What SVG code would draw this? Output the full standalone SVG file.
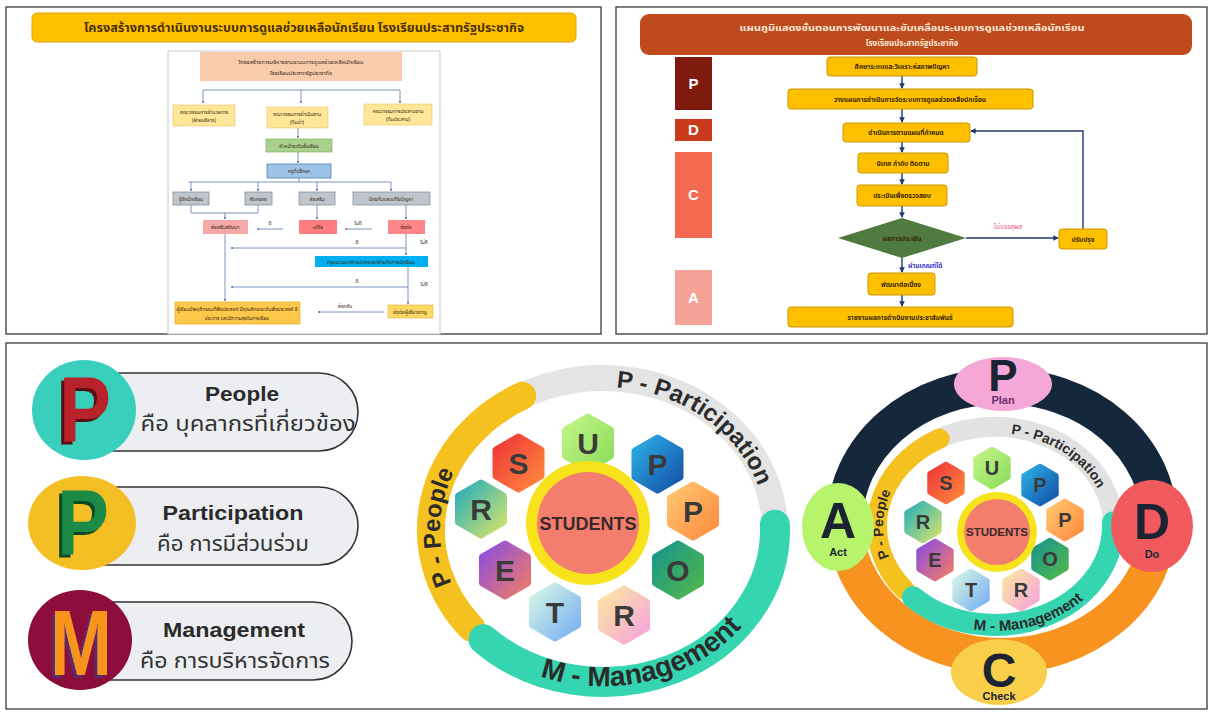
<svg xmlns="http://www.w3.org/2000/svg" width="1211" height="713" viewBox="0 0 1211 713">
<defs>
<style>
.panel{fill:#fff;stroke:#3a3a3a;stroke-width:1.3}
.th{font-family:"Noto Sans Thai","Noto Sans Thai UI","Noto Sans","DejaVu Sans",sans-serif}
.en{font-family:"Liberation Sans",Arial,sans-serif}
.lc{stroke:#5a78ad;stroke-width:0.8;fill:none}
.fc{stroke:#1f3a6e;stroke-width:1.4;fill:none}
.gold{fill:#FFC000;stroke:#C99700;stroke-width:1}
.t5{font-size:5px;fill:#3a2a10;text-anchor:middle}
.t6{font-size:6.5px;font-weight:bold;fill:#3a2600;text-anchor:middle}
.hx{stroke-width:7;stroke-linejoin:round}
.hl{font-family:"Liberation Sans",Arial,sans-serif;font-weight:bold;font-size:30px;fill:#3a3a3a;text-anchor:middle}
.hs{font-family:"Liberation Sans",Arial,sans-serif;font-weight:bold;font-size:20px;fill:#3a3a3a;text-anchor:middle}
.ring{fill:none;stroke-linecap:round}
.rt{font-family:"Liberation Sans",Arial,sans-serif;font-weight:bold;fill:#2b2b2b}
.pill{fill:#eceef1;stroke:#333;stroke-width:1.6}
.pe{font-family:"Liberation Sans",Arial,sans-serif;font-weight:bold;font-size:21px;fill:#2a2a2a;text-anchor:middle}
.pt{font-size:22px;fill:#333;text-anchor:middle}
.big{font-family:"Liberation Sans",Arial,sans-serif;font-weight:bold;text-anchor:middle}
</style>
<filter id="shR" x="-30%" y="-30%" width="160%" height="160%"><feDropShadow dx="-3" dy="3" stdDeviation="0.4" flood-color="#5a0f12" flood-opacity="1"/></filter>
<filter id="shG" x="-30%" y="-30%" width="160%" height="160%"><feDropShadow dx="-3" dy="3" stdDeviation="0.4" flood-color="#0d4a24" flood-opacity="1"/></filter>
<filter id="shM" x="-30%" y="-30%" width="160%" height="160%"><feDropShadow dx="-3" dy="3" stdDeviation="0.4" flood-color="#5a2a6a" flood-opacity="1"/></filter>
<marker id="ah" viewBox="0 0 6 6" refX="5" refY="3" markerWidth="4" markerHeight="4" orient="auto"><path d="M0,0 L6,3 L0,6 Z" fill="#1f3a6e"/></marker>
<marker id="as" viewBox="0 0 6 6" refX="5" refY="3" markerWidth="3" markerHeight="3" orient="auto"><path d="M0,0 L6,3 L0,6 Z" fill="#5a78ad"/></marker>
<linearGradient id="gS" x1="0" y1="0" x2="1" y2="1"><stop offset="0" stop-color="#ee3438"/><stop offset="1" stop-color="#ff8a3c"/></linearGradient>
<linearGradient id="gU" x1="0" y1="0" x2="1" y2="1"><stop offset="0" stop-color="#c2f588"/><stop offset="1" stop-color="#8cdc5a"/></linearGradient>
<linearGradient id="gP1" x1="0" y1="0" x2="1" y2="1"><stop offset="0" stop-color="#2cb0e6"/><stop offset="1" stop-color="#1450a6"/></linearGradient>
<linearGradient id="gP2" x1="0" y1="0" x2="1" y2="1"><stop offset="0" stop-color="#ffc870"/><stop offset="1" stop-color="#ff8a3e"/></linearGradient>
<linearGradient id="gO" x1="0" y1="0" x2="1" y2="1"><stop offset="0" stop-color="#17958c"/><stop offset="1" stop-color="#52b84a"/></linearGradient>
<linearGradient id="gR2" x1="0" y1="0" x2="1" y2="1"><stop offset="0" stop-color="#fbe7a0"/><stop offset="1" stop-color="#f5a3dc"/></linearGradient>
<linearGradient id="gT" x1="0" y1="0" x2="1" y2="1"><stop offset="0" stop-color="#d8f7e6"/><stop offset="1" stop-color="#76aef2"/></linearGradient>
<linearGradient id="gE" x1="0" y1="0" x2="1" y2="1"><stop offset="0" stop-color="#8a4de2"/><stop offset="1" stop-color="#f27c66"/></linearGradient>
<linearGradient id="gR1" x1="0" y1="0" x2="1" y2="1"><stop offset="0" stop-color="#26adbc"/><stop offset="1" stop-color="#d6e46a"/></linearGradient>
<polygon id="hx" points="0,-26 22.5,-13 22.5,13 0,26 -22.5,13 -22.5,-13"/>
<path id="mPart" d="M547.3,395.6 A163,143 0 0,1 763.5,554.8"/>
<path id="mPeop" d="M478.1,621.9 A163,143 0 0,1 481.9,434.3"/>
<path id="mMan" d="M443.7,599.1 A178,158 0 0,0 779.7,510.7"/>
<path id="rPart" d="M956.7,438.6 A112,93 0 0,1 1105.3,542.1"/>
<path id="rPeop" d="M909.2,585.8 A112,93 0 0,1 911.8,463.8"/>
<path id="rMan" d="M887.6,578.5 A124,105 0 0,0 1117.1,507.8"/>
</defs>

<rect width="1211" height="713" fill="#fff"/>

<!-- panels -->
<rect class="panel" x="6" y="7" width="595" height="327"/>
<rect class="panel" x="616" y="7" width="591" height="327"/>
<rect class="panel" x="6" y="343" width="1201" height="366"/>

<!-- ============ TOP LEFT ============ -->
<g id="tl-title">
<rect x="32" y="13" width="544" height="29" rx="5" fill="#FFC000" stroke="#e0a800"/>
<text class="th" x="304" y="32" font-size="13" font-weight="bold" fill="#4a3000" text-anchor="middle" textLength="440" lengthAdjust="spacingAndGlyphs">โครงสร้างการดำเนินงานระบบการดูแลช่วยเหลือนักเรียน โรงเรียนประสาทรัฐประชากิจ</text>
</g>
<rect x="168" y="51" width="272" height="283" fill="#fff" stroke="#c8c8c8" stroke-width="1"/>

<g id="lc-connectors">
<path class="lc" d="M203,90 H400"/>
<path class="lc" d="M203,90 V103" marker-end="url(#as)"/>
<path class="lc" d="M301,90 V103" marker-end="url(#as)"/>
<path class="lc" d="M400,90 V103" marker-end="url(#as)"/>
<path class="lc" d="M298,128 V138" marker-end="url(#as)"/>
<path class="lc" d="M298,152 V163" marker-end="url(#as)"/>
<path class="lc" d="M299,178 V182 M188,182 H391"/>
<path class="lc" d="M191,182 V191" marker-end="url(#as)"/>
<path class="lc" d="M258,182 V191" marker-end="url(#as)"/>
<path class="lc" d="M317,182 V191" marker-end="url(#as)"/>
<path class="lc" d="M391,182 V191" marker-end="url(#as)"/>
<path class="lc" d="M191,205 V213 H258 V205"/>
<path class="lc" d="M225,213 V219" marker-end="url(#as)"/>
<path class="lc" d="M317,205 V219" marker-end="url(#as)"/>
<path class="lc" d="M406,205 V219" marker-end="url(#as)"/>
<path class="lc" d="M283,229 H257" marker-end="url(#as)"/>
<path class="lc" d="M372,229 H345" marker-end="url(#as)"/>
<path class="lc" d="M406,234 V255" marker-end="url(#as)"/>
<path class="lc" d="M406,248 H231" marker-end="url(#as)"/>
<path class="lc" d="M408,267 V304" marker-end="url(#as)"/>
<path class="lc" d="M408,287 H231" marker-end="url(#as)"/>
<path class="lc" d="M225,234 V301" marker-end="url(#as)"/>
<path class="lc" d="M384,312 H318" marker-end="url(#as)"/>
</g>

<g id="lc-root"><rect x="200" y="52" width="202" height="29" fill="#F8CBAD"/>
<text class="th t5" x="301" y="64" textLength="125" lengthAdjust="spacingAndGlyphs">โครงสร้างการบริหารงานระบบการดูแลช่วยเหลือนักเรียน</text>
<text class="th t5" x="301" y="75" textLength="62" lengthAdjust="spacingAndGlyphs">โรงเรียนประสาทรัฐประชากิจ</text></g>
<g id="lc-y1"><rect x="173" y="105" width="62" height="21" fill="#FFE699" stroke="#e6c463" stroke-width="0.6"/>
<text class="th t5" x="204" y="114">คณะกรรมการอำนวยการ</text><text class="th t5" x="204" y="122">(ฝ่ายบริหาร)</text></g>
<g id="lc-y2"><rect x="267" y="107" width="61" height="21" fill="#FFE699" stroke="#e6c463" stroke-width="0.6"/>
<text class="th t5" x="297" y="116">คณะกรรมการดำเนินงาน</text><text class="th t5" x="297" y="124">(ทีมนำ)</text></g>
<g id="lc-y3"><rect x="364" y="104" width="68" height="21" fill="#FFE699" stroke="#e6c463" stroke-width="0.6"/>
<text class="th t5" x="398" y="113">คณะกรรมการประสานงาน</text><text class="th t5" x="398" y="121">(ทีมประสาน)</text></g>
<g id="lc-green"><rect x="266" y="139" width="66" height="13" fill="#A9D18E" stroke="#7faf5f" stroke-width="0.7"/>
<text class="th t5" x="299" y="147.5">หัวหน้าระดับชั้นเรียน</text></g>
<g id="lc-blue"><rect x="267" y="164" width="64" height="14" fill="#9DC3E6" stroke="#4f7fb8" stroke-width="0.8"/>
<text class="th t5" x="299" y="173">ครูที่ปรึกษา</text></g>
<g id="lc-g1"><rect x="173" y="192" width="36" height="13" fill="#BFC5CC" stroke="#7f868e" stroke-width="0.7"/><text class="th t5" x="191" y="200.5">รู้จักนักเรียน</text></g>
<g id="lc-g2"><rect x="245" y="192" width="27" height="13" fill="#BFC5CC" stroke="#7f868e" stroke-width="0.7"/><text class="th t5" x="258" y="200.5">คัดกรอง</text></g>
<g id="lc-g3"><rect x="299" y="192" width="36" height="13" fill="#BFC5CC" stroke="#7f868e" stroke-width="0.7"/><text class="th t5" x="317" y="200.5">ส่งเสริม</text></g>
<g id="lc-g4"><rect x="353" y="192" width="77" height="13" fill="#BFC5CC" stroke="#7f868e" stroke-width="0.7"/><text class="th t5" x="391" y="200.5">ป้องกันและแก้ไขปัญหา</text></g>
<g id="lc-r1"><rect x="203" y="220" width="45" height="14" fill="#F4A9A8"/><text class="th t5" x="225" y="229">ส่งเสริมพัฒนา</text></g>
<g id="lc-r2"><rect x="299" y="220" width="38" height="14" fill="#FF7C80"/><text class="th t5" x="318" y="229">แก้ไข</text></g>
<g id="lc-r3"><rect x="388" y="220" width="37" height="14" fill="#FF8688"/><text class="th t5" x="406" y="229">ส่งต่อ</text></g>
<g id="lc-labels">
<text class="th t5" x="270" y="225">ดี</text>
<text class="th t5" x="358" y="225">ไม่ดี</text>
<text class="th t5" x="357" y="244">ดี</text>
<text class="th t5" x="424" y="244">ไม่ดี</text>
<text class="th t5" x="357" y="283">ดี</text>
<text class="th t5" x="424" y="286">ไม่ดี</text>
<text class="th t5" x="345" y="308">ส่งกลับ</text>
</g>
<g id="lc-cyan"><rect x="315" y="256" width="113" height="11" fill="#00B0F0"/>
<text class="th t5" x="371" y="263.5" fill="#10304a">ครูแนะแนว/ฝ่ายปกครอง/ฝ่ายกิจการนักเรียน</text></g>
<g id="lc-bl"><rect x="175" y="302" width="125" height="22" fill="#FFC84A" stroke="#e0a800" stroke-width="0.6"/>
<text class="th t5" x="237" y="311">ผู้เรียนมีพฤติกรรมที่พึงประสงค์ มีคุณลักษณะอันพึงประสงค์ 8</text>
<text class="th t5" x="237" y="320">ประการ และมีความสุขในการเรียน</text></g>
<g id="lc-br"><rect x="388" y="305" width="45" height="13" fill="#FFD966" stroke="#e0b030" stroke-width="0.6"/>
<text class="th t5" x="410" y="313.5">ส่งต่อผู้เชี่ยวชาญ</text></g>

<!-- ============ TOP RIGHT ============ -->
<g id="tr-title">
<rect x="640" y="14" width="552" height="41" rx="9" fill="#BF4A1E"/>
<text class="th" x="912" y="31" font-size="8" font-weight="bold" fill="#fbe8d6" text-anchor="middle" textLength="345" lengthAdjust="spacingAndGlyphs">แผนภูมิแสดงขั้นตอนการพัฒนาและขับเคลื่อนระบบการดูแลช่วยเหลือนักเรียน</text>
<text class="th" x="912" y="46" font-size="8" font-weight="bold" fill="#fbe8d6" text-anchor="middle">โรงเรียนประสาทรัฐประชากิจ</text>
</g>
<g id="pdca-P"><rect x="675" y="57" width="37" height="53" fill="#7E1A0E"/><text class="big" x="693.5" y="89" font-size="15" fill="#fff">P</text></g>
<g id="pdca-D"><rect x="675" y="119" width="37" height="22" fill="#C93A1C"/><text class="big" x="693.5" y="135" font-size="15" fill="#fff">D</text></g>
<g id="pdca-C"><rect x="675" y="152" width="37" height="86" fill="#F26A4F"/><text class="big" x="693.5" y="200" font-size="15" fill="#fff">C</text></g>
<g id="pdca-A"><rect x="675" y="270" width="37" height="55" fill="#F5A398"/><text class="big" x="693.5" y="303" font-size="15" fill="#fff">A</text></g>

<g id="fc-connectors">
<path class="fc" d="M902,76 V88" marker-end="url(#ah)"/>
<path class="fc" d="M902,109 V122" marker-end="url(#ah)"/>
<path class="fc" d="M902,142 V152" marker-end="url(#ah)"/>
<path class="fc" d="M902,173 V184" marker-end="url(#ah)"/>
<path class="fc" d="M902,206 V217" marker-end="url(#ah)"/>
<path class="fc" d="M902,258 V272" marker-end="url(#ah)"/>
<path class="fc" d="M902,295 V306" marker-end="url(#ah)"/>
<path class="fc" d="M966,238 H1058" marker-end="url(#ah)"/>
<path class="fc" d="M1083,229 V131 H971" marker-end="url(#ah)"/>
</g>
<g id="fc1"><rect class="gold" x="827" y="57" width="150" height="19" rx="3"/><text class="th t6" x="902" y="69">ศึกษาระบบและวิเคราะห์สภาพปัญหา</text></g>
<g id="fc2"><rect class="gold" x="788" y="89" width="245" height="20" rx="3"/><text class="th t6" x="910" y="101.5">วางแผนการดำเนินการจัดระบบการดูแลช่วยเหลือนักเรียน</text></g>
<g id="fc3"><rect class="gold" x="843" y="123" width="127" height="19" rx="3"/><text class="th t6" x="906" y="135">ดำเนินการตามแผนที่กำหนด</text></g>
<g id="fc4"><rect class="gold" x="858" y="153" width="90" height="20" rx="3"/><text class="th t6" x="903" y="165.5">นิเทศ กำกับ ติดตาม</text></g>
<g id="fc5"><rect class="gold" x="857" y="185" width="90" height="21" rx="3"/><text class="th t6" x="902" y="198">ประเมินเพื่อตรวจสอบ</text></g>
<g id="fc-dec"><polygon points="838,238 902,218 966,238 902,258" fill="#4F7A40"/><text class="th t6" x="902" y="241" fill="#eef5e6">ผลการประเมิน</text></g>
<g id="fc-fix"><rect class="gold" x="1059" y="229" width="48" height="20" rx="3"/><text class="th t6" x="1083" y="241.5">ปรับปรุง</text></g>
<g id="fc6"><rect class="gold" x="868" y="273" width="67" height="22" rx="3"/><text class="th t6" x="901" y="286.5">พัฒนาต่อเนื่อง</text></g>
<g id="fc7"><rect class="gold" x="788" y="307" width="225" height="20" rx="3"/><text class="th t6" x="900" y="319.5">รายงานผลการดำเนินงานประชาสัมพันธ์</text></g>
<text class="th" x="1008" y="229" font-size="6.5" fill="#e0508a" text-anchor="middle">ไม่บรรลุผล</text>
<text class="th" x="908" y="268" font-size="6.5" font-weight="bold" fill="#3333cc">ผ่านเกณฑ์ได้</text>

<!-- ============ BOTTOM LEFT PILLS ============ -->
<g id="pill-people">
<path class="pill" d="M84,373 H319 A39,39 0 0 1 319,451 H84 Z"/>
<ellipse cx="84" cy="410" rx="52" ry="50" fill="#38d0bd"/>
<text class="big" x="85" y="442" font-size="92" fill="#b8222a" textLength="52" lengthAdjust="spacingAndGlyphs" filter="url(#shR)">P</text>
<text class="pe" x="242" y="401" textLength="74" lengthAdjust="spacingAndGlyphs">People</text>
<text class="th pt" x="248" y="431" textLength="215" lengthAdjust="spacingAndGlyphs">คือ บุคลากรที่เกี่ยวข้อง</text>
</g>
<g id="pill-participation">
<path class="pill" d="M84,487 H319 A39,39 0 0 1 319,565 H84 Z"/>
<ellipse cx="82" cy="523" rx="54" ry="47" fill="#f4be25"/>
<text class="big" x="83" y="555" font-size="92" fill="#1e8b45" textLength="52" lengthAdjust="spacingAndGlyphs" filter="url(#shG)">P</text>
<text class="pe" x="233" y="520" textLength="141" lengthAdjust="spacingAndGlyphs">Participation</text>
<text class="th pt" x="233" y="551" textLength="152" lengthAdjust="spacingAndGlyphs">คือ การมีส่วนร่วม</text>
</g>
<g id="pill-management">
<path class="pill" d="M84,602 H313 A39,39 0 0 1 313,680 H84 Z"/>
<ellipse cx="80" cy="640" rx="52" ry="50" fill="#8c0d3c"/>
<text class="big" x="81" y="675" font-size="92" fill="#f7941d" textLength="62" lengthAdjust="spacingAndGlyphs" filter="url(#shM)">M</text>
<text class="pe" x="234" y="637" textLength="142" lengthAdjust="spacingAndGlyphs">Management</text>
<text class="th pt" x="235" y="668" textLength="190" lengthAdjust="spacingAndGlyphs">คือ การบริหารจัดการ</text>
</g>

<!-- ============ MIDDLE CIRCLE ============ -->
<g id="mid-rings">
<path class="ring" d="M462.1,442.8 A172,152 0 0,1 769.1,569.3" stroke="#e4e4e4" stroke-width="26" stroke-linecap="butt"/>
<path class="ring" d="M471.2,627.7 A172,152 0 0,1 522.2,395.8" stroke="#f5c11e" stroke-width="28"/>
<path class="ring" d="M774.9,524.7 A172,152 0 0,1 483.5,639.3" stroke="#36d5b1" stroke-width="30"/>
<text class="rt" font-size="24"><textPath href="#mPart" startOffset="50%" text-anchor="middle">P - Participation</textPath></text>
<text class="rt" font-size="24"><textPath href="#mPeop" startOffset="50%" text-anchor="middle">P - People</textPath></text>
<text class="rt" font-size="28"><textPath href="#mMan" startOffset="50%" text-anchor="middle">M - Management</textPath></text>
</g>
<g id="mid-flower">
<use href="#hx" class="hx" transform="translate(518.5,463)" fill="url(#gS)" stroke="url(#gS)"/><text class="hl" x="518.5" y="474">S</text>
<use href="#hx" class="hx" transform="translate(588,443)" fill="url(#gU)" stroke="url(#gU)"/><text class="hl" x="588" y="454">U</text>
<use href="#hx" class="hx" transform="translate(657.5,464)" fill="url(#gP1)" stroke="url(#gP1)"/><text class="hl" x="657.5" y="475">P</text>
<use href="#hx" class="hx" transform="translate(693,511)" fill="url(#gP2)" stroke="url(#gP2)"/><text class="hl" x="693" y="522">P</text>
<use href="#hx" class="hx" transform="translate(678,570)" fill="url(#gO)" stroke="url(#gO)"/><text class="hl" x="678" y="581">O</text>
<use href="#hx" class="hx" transform="translate(624,615)" fill="url(#gR2)" stroke="url(#gR2)"/><text class="hl" x="624" y="626">R</text>
<use href="#hx" class="hx" transform="translate(555,612)" fill="url(#gT)" stroke="url(#gT)"/><text class="hl" x="555" y="623">T</text>
<use href="#hx" class="hx" transform="translate(505,570)" fill="url(#gE)" stroke="url(#gE)"/><text class="hl" x="505" y="581">E</text>
<use href="#hx" class="hx" transform="translate(481,509)" fill="url(#gR1)" stroke="url(#gR1)"/><text class="hl" x="481" y="520">R</text>
<circle cx="588" cy="523" r="62" fill="#f7e21b"/>
<circle cx="588" cy="523" r="51" fill="#f47e6e"/>
<text class="big" x="588" y="530" font-size="18" fill="#3a2a2a">STUDENTS</text>
</g>

<!-- ============ RIGHT CIRCLE ============ -->
<g id="pdca-ring">
<path class="ring" d="M845,521 A157,135 0 0,1 1159,521" stroke="#15273a" stroke-width="36" stroke-linecap="butt"/>
<path class="ring" d="M1159,521 A157,135 0 0,1 845,521" stroke="#f7931e" stroke-width="36" stroke-linecap="butt"/>
</g>
<g id="right-rings">
<path class="ring" d="M898.3,469.2 A118,99 0 0,1 1109,551.6" stroke="#e2e2e2" stroke-width="20" stroke-linecap="butt"/>
<path class="ring" d="M904.6,589.6 A118,99 0 0,1 939.6,438.6" stroke="#f5c11e" stroke-width="20"/>
<path class="ring" d="M1112.9,522.5 A118,99 0 0,1 913,597.2" stroke="#36d5b1" stroke-width="22"/>
<text class="rt" font-size="14"><textPath href="#rPart" startOffset="50%" text-anchor="middle">P - Participation</textPath></text>
<text class="rt" font-size="14"><textPath href="#rPeop" startOffset="50%" text-anchor="middle">P - People</textPath></text>
<text class="rt" font-size="15"><textPath href="#rMan" startOffset="50%" text-anchor="middle">M - Management</textPath></text>
</g>
<g id="right-flower">
<use href="#hx" class="hx" transform="translate(946,483) scale(0.72)" fill="url(#gS)" stroke="url(#gS)"/><text class="hs" x="946" y="490">S</text>
<use href="#hx" class="hx" transform="translate(992,468) scale(0.72)" fill="url(#gU)" stroke="url(#gU)"/><text class="hs" x="992" y="475">U</text>
<use href="#hx" class="hx" transform="translate(1040,485) scale(0.72)" fill="url(#gP1)" stroke="url(#gP1)"/><text class="hs" x="1040" y="492">P</text>
<use href="#hx" class="hx" transform="translate(1065,520) scale(0.72)" fill="url(#gP2)" stroke="url(#gP2)"/><text class="hs" x="1065" y="527">P</text>
<use href="#hx" class="hx" transform="translate(1050,559) scale(0.72)" fill="url(#gO)" stroke="url(#gO)"/><text class="hs" x="1050" y="566">O</text>
<use href="#hx" class="hx" transform="translate(1021,590) scale(0.72)" fill="url(#gR2)" stroke="url(#gR2)"/><text class="hs" x="1021" y="597">R</text>
<use href="#hx" class="hx" transform="translate(971,590) scale(0.72)" fill="url(#gT)" stroke="url(#gT)"/><text class="hs" x="971" y="597">T</text>
<use href="#hx" class="hx" transform="translate(935,560) scale(0.72)" fill="url(#gE)" stroke="url(#gE)"/><text class="hs" x="935" y="567">E</text>
<use href="#hx" class="hx" transform="translate(923,522) scale(0.72)" fill="url(#gR1)" stroke="url(#gR1)"/><text class="hs" x="923" y="529">R</text>
<circle cx="997" cy="532" r="40" fill="#f7e21b"/>
<circle cx="997" cy="532" r="33" fill="#f47e6e"/>
<text class="big" x="997" y="536" font-size="11.5" fill="#3a2a2a">STUDENTS</text>
</g>
<g id="node-plan">
<ellipse cx="1003" cy="384" rx="49" ry="27" fill="#f5a8d8"/>
<text class="big" x="1003" y="391" font-size="44" fill="#1b2433">P</text>
<text class="big" x="1003" y="404" font-size="11" fill="#6a2c70">Plan</text>
</g>
<g id="node-do">
<ellipse cx="1152" cy="526" rx="41" ry="46" fill="#f05a5e"/>
<text class="big" x="1152" y="539" font-size="50" fill="#1b2433">D</text>
<text class="big" x="1152" y="558" font-size="11" fill="#1b2433">Do</text>
</g>
<g id="node-act">
<ellipse cx="838" cy="527" rx="36" ry="44" fill="#b7f36b"/>
<text class="big" x="838" y="538" font-size="50" fill="#1b2433">A</text>
<text class="big" x="838" y="556" font-size="11" fill="#1b2433">Act</text>
</g>
<g id="node-check">
<ellipse cx="999" cy="672" rx="48" ry="33" fill="#f9cf4a"/>
<text class="big" x="999" y="687" font-size="48" fill="#1b2433">C</text>
<text class="big" x="999" y="700" font-size="11" fill="#1b2433">Check</text>
</g>
</svg>
